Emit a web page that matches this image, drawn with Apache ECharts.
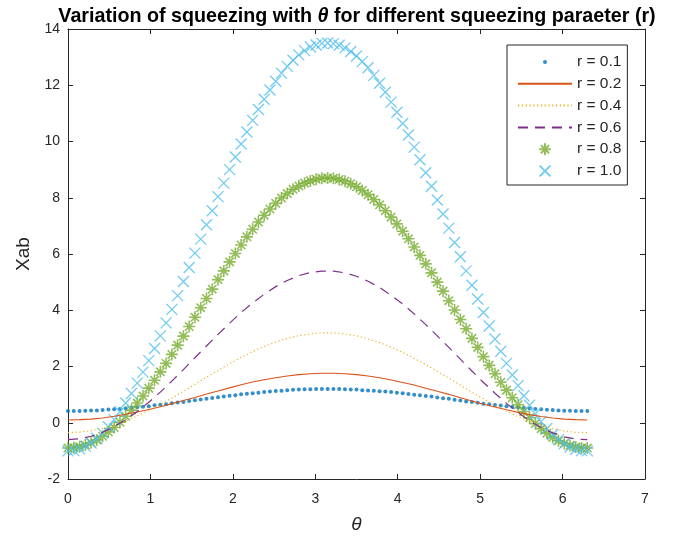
<!DOCTYPE html>
<html>
<head>
<meta charset="utf-8">
<script src="https://cdn.jsdelivr.net/npm/echarts@6/dist/echarts.min.js"></script>
<style>
  html, body { margin: 0; padding: 0; background: #fff; }
  #chart { width: 673px; height: 539px; }
</style>
</head>
<body>
<div id="chart"></div>
<script>
// theta samples (marker series use every point, line series every second one)
var theta = [
  0, 0.07, 0.14, 0.21, 0.28, 0.35, 0.42, 0.49, 0.56, 0.63,
  0.70, 0.77, 0.84, 0.91, 0.98, 1.05, 1.12, 1.19, 1.26, 1.33,
  1.40, 1.47, 1.54, 1.61, 1.68, 1.75, 1.82, 1.89, 1.96, 2.03,
  2.10, 2.17, 2.24, 2.31, 2.38, 2.45, 2.52, 2.59, 2.66, 2.73,
  2.80, 2.87, 2.94, 3.01, 3.08, 3.15, 3.22, 3.29, 3.36, 3.43,
  3.50, 3.57, 3.64, 3.71, 3.78, 3.85, 3.92, 3.99, 4.06, 4.13,
  4.20, 4.27, 4.34, 4.41, 4.48, 4.55, 4.62, 4.69, 4.76, 4.83,
  4.90, 4.97, 5.04, 5.11, 5.18, 5.25, 5.32, 5.39, 5.46, 5.53,
  5.60, 5.67, 5.74, 5.81, 5.88, 5.95, 6.02, 6.09, 6.16, 6.23,
  6.30
];
var thetaLine = [
  0, 0.14, 0.28, 0.42, 0.56, 0.70, 0.84, 0.98, 1.12, 1.26,
  1.40, 1.54, 1.68, 1.82, 1.96, 2.10, 2.24, 2.38, 2.52, 2.66,
  2.80, 2.94, 3.08, 3.22, 3.36, 3.50, 3.64, 3.78, 3.92, 4.06,
  4.20, 4.34, 4.48, 4.62, 4.76, 4.90, 5.04, 5.18, 5.32, 5.46,
  5.60, 5.74, 5.88, 6.02, 6.16, 6.30
];

// r = 0.1 (dots)
var r01 = [
  0.42, 0.42, 0.42, 0.43, 0.44, 0.44, 0.45, 0.47, 0.48, 0.49,
  0.51, 0.53, 0.55, 0.57, 0.59, 0.62, 0.64, 0.66, 0.69, 0.72,
  0.74, 0.77, 0.80, 0.83, 0.85, 0.88, 0.91, 0.93, 0.96, 0.98,
  1.01, 1.03, 1.05, 1.07, 1.09, 1.11, 1.13, 1.14, 1.16, 1.17,
  1.18, 1.19, 1.19, 1.20, 1.20, 1.20, 1.20, 1.20, 1.19, 1.18,
  1.18, 1.16, 1.15, 1.14, 1.12, 1.11, 1.09, 1.07, 1.05, 1.02,
  1.00, 0.98, 0.95, 0.93, 0.90, 0.87, 0.85, 0.82, 0.79, 0.76,
  0.74, 0.71, 0.68, 0.66, 0.63, 0.61, 0.59, 0.57, 0.54, 0.53,
  0.51, 0.49, 0.48, 0.46, 0.45, 0.44, 0.43, 0.43, 0.42, 0.42,
  0.42
];
// r = 0.2 / 0.4 / 0.6 (lines, on thetaLine)
var r02 = [
  0.10, 0.11, 0.13, 0.17, 0.23, 0.30, 0.38, 0.47, 0.57, 0.68,
  0.79, 0.90, 1.02, 1.13, 1.24, 1.35, 1.45, 1.53, 1.60, 1.66,
  1.71, 1.74, 1.76, 1.76, 1.74, 1.71, 1.66, 1.60, 1.52, 1.43,
  1.34, 1.23, 1.12, 1.01, 0.89, 0.77, 0.66, 0.56, 0.46, 0.37,
  0.29, 0.22, 0.17, 0.13, 0.11, 0.10
];
var r04 = [
  -0.35, -0.33, -0.28, -0.20, -0.08, 0.07, 0.24, 0.44, 0.65, 0.88,
  1.12, 1.37, 1.62, 1.86, 2.10, 2.32, 2.53, 2.71, 2.87, 3.00,
  3.10, 3.16, 3.20, 3.19, 3.16, 3.09, 2.98, 2.85, 2.69, 2.50,
  2.29, 2.07, 1.83, 1.59, 1.34, 1.09, 0.85, 0.62, 0.41, 0.22,
  0.05, -0.09, -0.21, -0.29, -0.34, -0.35
];
var r06 = [
  -0.60, -0.57, -0.48, -0.34, -0.14, 0.11, 0.40, 0.73, 1.09, 1.48,
  1.89, 2.31, 2.73, 3.14, 3.54, 3.92, 4.26, 4.57, 4.84, 5.06,
  5.23, 5.34, 5.39, 5.39, 5.33, 5.21, 5.03, 4.81, 4.53, 4.22,
  3.87, 3.49, 3.09, 2.68, 2.26, 1.84, 1.43, 1.05, 0.69, 0.36,
  0.07, -0.17, -0.36, -0.50, -0.58, -0.60
];
// r = 0.8 (asterisks)
var r08 = [
  -0.90, -0.89, -0.85, -0.79, -0.71, -0.61, -0.48, -0.33, -0.17, 0.02,
  0.23, 0.45, 0.70, 0.95, 1.23, 1.51, 1.81, 2.11, 2.43, 2.76,
  3.08, 3.42, 3.75, 4.09, 4.42, 4.75, 5.09, 5.40, 5.72, 6.02,
  6.32, 6.61, 6.88, 7.14, 7.38, 7.60, 7.80, 7.99, 8.15, 8.30,
  8.42, 8.52, 8.60, 8.66, 8.69, 8.70, 8.69, 8.65, 8.59, 8.50,
  8.39, 8.26, 8.11, 7.94, 7.75, 7.54, 7.31, 7.07, 6.81, 6.54,
  6.25, 5.95, 5.65, 5.33, 5.00, 4.68, 4.34, 4.01, 3.67, 3.34,
  3.00, 2.68, 2.35, 2.04, 1.74, 1.44, 1.16, 0.89, 0.64, 0.40,
  0.18, -0.03, -0.21, -0.37, -0.52, -0.64, -0.74, -0.81, -0.86, -0.90,
  -0.90
];
// r = 1.0 (crosses)
var r10 = [
  -1.00, -0.99, -0.93, -0.84, -0.72, -0.56, -0.37, -0.14, 0.11, 0.39,
  0.70, 1.04, 1.41, 1.80, 2.21, 2.64, 3.09, 3.55, 4.03, 4.52,
  5.02, 5.52, 6.03, 6.53, 7.04, 7.54, 8.04, 8.52, 9.00, 9.45,
  9.91, 10.34, 10.75, 11.14, 11.50, 11.83, 12.14, 12.43, 12.67, 12.89,
  13.08, 13.23, 13.36, 13.43, 13.49, 13.50, 13.48, 13.42, 13.33, 13.20,
  13.04, 12.84, 12.62, 12.35, 12.07, 11.75, 11.40, 11.04, 10.64, 10.23,
  9.80, 9.35, 8.89, 8.41, 7.92, 7.42, 6.92, 6.41, 5.90, 5.40,
  4.89, 4.40, 3.92, 3.44, 2.98, 2.54, 2.11, 1.70, 1.32, 0.96,
  0.62, 0.32, 0.04, -0.20, -0.42, -0.60, -0.75, -0.86, -0.94, -0.99,
  -1.00
];

var xTicks = [0, 7, 1];     // min, max, step
var yTicks = [-2, 14, 2];

function pairs(xs, ys) {
  return xs.map(function (x, i) { return [x, ys[i]]; });
}

var FONT = 'Liberation Sans, Arial, Helvetica, sans-serif';
var AX = '#262626';
// marker shapes (extra moveTo points pad the box so the glyph comes out smaller in the legend)
var CROSS = 'path://M0,0L10,10M10,0L0,10';
var STAR = 'path://M5,0L5,10M0,5L10,5M1.5,1.5L8.5,8.5M8.5,1.5L1.5,8.5';
var CROSS_LEG = 'path://M-1.5,-1.5M11.5,11.5M0,0L10,10M10,0L0,10';
var STAR_LEG = 'path://M-1,-1M11,11M5,0L5,10M0,5L10,5M1.5,1.5L8.5,8.5M8.5,1.5L1.5,8.5';
var DOT_LEG = 'path://M0,0M14,14M5,7A2,2,0,1,1,9,7A2,2,0,1,1,5,7Z';

var axisBase = {
  type: 'value',
  axisLine: { show: true, onZero: false, lineStyle: { color: AX, width: 1 } },
  axisTick: { show: true, inside: true, length: 5, lineStyle: { color: AX } },
  splitLine: { show: false }
};

function makeAxis(t, extra) {
  return Object.assign({}, axisBase, { min: t[0], max: t[1], interval: t[2] }, extra);
}

var chart = echarts.init(document.getElementById('chart'));

var option = {
  backgroundColor: '#fff',
  animation: false,
  title: {
    text: '{b|Variation of squeezing with }{t|θ}{b| for different squeezing paraeter (r)}',
    left: 352,
    top: 2,
    textAlign: 'center',
    textStyle: {
      rich: {
        b: { fontFamily: FONT, fontWeight: 'bold', fontSize: 19.7, color: '#000' },
        t: { fontFamily: FONT, fontStyle: 'italic', fontSize: 19.7, color: '#000' }
      }
    }
  },
  grid: { left: 68, right: 28, top: 29, bottom: 57 },
  legend: {
    orient: 'vertical',
    left: 507,
    top: 45,
    itemWidth: 54,
    itemHeight: 14,
    itemGap: 5.8,
    padding: [9, 6, 6, 10],
    borderColor: AX,
    borderWidth: 1,
    backgroundColor: '#fff',
    textStyle: { fontFamily: FONT, fontSize: 15.5, color: AX },
    data: [
      { name: 'r = 0.1', icon: DOT_LEG, itemStyle: { borderWidth: 0 } },
      { name: 'r = 0.2', itemStyle: { opacity: 0 } },
      { name: 'r = 0.4', itemStyle: { opacity: 0 } },
      { name: 'r = 0.6', itemStyle: { opacity: 0 } },
      { name: 'r = 0.8', icon: STAR_LEG },
      { name: 'r = 1.0', icon: CROSS_LEG }
    ]
  },
  xAxis: [
    makeAxis(xTicks, {
      position: 'bottom',
      axisLabel: { fontFamily: FONT, fontSize: 14, color: AX, margin: 13 },
      name: 'θ',
      nameLocation: 'middle',
      nameGap: 36,
      nameTextStyle: { fontFamily: FONT, fontSize: 19, fontStyle: 'italic', color: AX }
    }),
    makeAxis(xTicks, { position: 'top', axisLabel: { show: false } })
  ],
  yAxis: [
    makeAxis(yTicks, {
      position: 'left',
      axisLabel: { fontFamily: FONT, fontSize: 14, color: AX, margin: 8 },
      name: 'Xab',
      nameLocation: 'middle',
      nameGap: 35,
      nameTextStyle: { fontFamily: FONT, fontSize: 19, color: AX }
    }),
    makeAxis(yTicks, { position: 'right', axisLabel: { show: false } })
  ],
  series: [
    {
      name: 'r = 0.1', type: 'scatter', data: pairs(theta, r01),
      symbol: 'circle', symbolSize: 4,
      itemStyle: { color: '#0072BD' }
    },
    {
      name: 'r = 0.2', type: 'line', data: pairs(thetaLine, r02), symbol: 'none',
      itemStyle: { color: '#D95319' },
      lineStyle: { color: '#D95319', width: 1.1 }
    },
    {
      name: 'r = 0.4', type: 'line', data: pairs(thetaLine, r04), symbol: 'none',
      itemStyle: { color: '#EDB120' },
      lineStyle: { color: '#EDB120', width: 1.2, type: [1.2, 2.6] }
    },
    {
      name: 'r = 0.6', type: 'line', data: pairs(thetaLine, r06), symbol: 'none',
      itemStyle: { color: '#7E2F8E' },
      lineStyle: { color: '#7E2F8E', width: 1.2, type: [10, 7] }
    },
    {
      name: 'r = 0.8', type: 'scatter', data: pairs(theta, r08),
      symbol: STAR, symbolSize: 12,
      itemStyle: { color: 'rgba(0,0,0,0)', borderColor: '#77AC30', borderWidth: 1.6 }
    },
    {
      name: 'r = 1.0', type: 'scatter', data: pairs(theta, r10),
      symbol: CROSS, symbolSize: 11,
      itemStyle: { color: 'rgba(0,0,0,0)', borderColor: '#4DBEEE', borderWidth: 1.3 }
    }
  ]
};

chart.setOption(option);
</script>
</body>
</html>
